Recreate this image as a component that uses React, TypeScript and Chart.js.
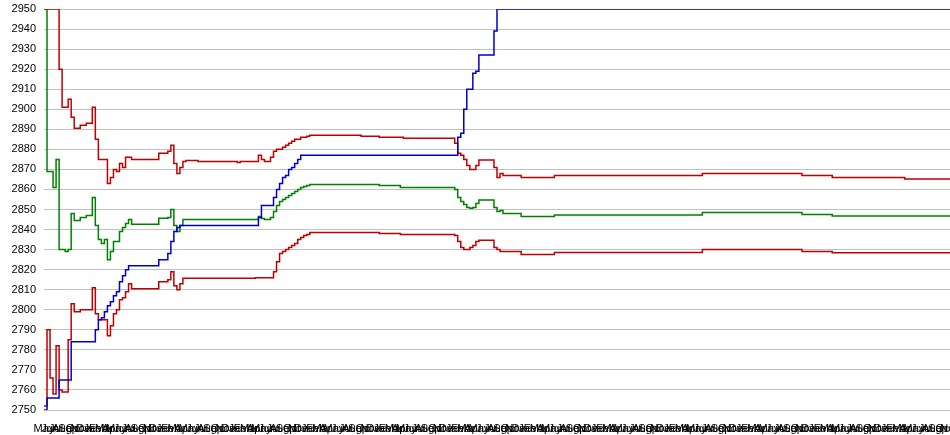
import React, { useEffect, useRef } from "react";
import { Chart, registerables } from "chart.js";

Chart.register(...registerables);

const MONTHS = ["May", "Jun", "Jul", "Aug", "Sep", "Oct", "Nov", "Dec", "Jan", "Feb", "Mar", "Apr"];

const Y_MIN = 2750;
const Y_MAX = 2950;
const Y_STEP = 10;

const blueLine = [
  2750, 2756, 2756, 2756, 2756, 2765, 2765, 2765, 2765, 2784,
  2784, 2784, 2784, 2784, 2784, 2784, 2784, 2790, 2795, 2796,
  2799, 2802, 2804, 2807, 2809, 2814, 2817, 2820, 2822, 2822,
  2822, 2822, 2822, 2822, 2822, 2822, 2822, 2822, 2825, 2825,
  2825, 2828, 2834, 2839, 2841, 2842, 2842, 2842, 2842, 2842,
  2842, 2842, 2842, 2842, 2842, 2842, 2842, 2842, 2842, 2842,
  2842, 2842, 2842, 2842, 2842, 2842, 2842, 2842, 2842, 2842,
  2842, 2846, 2852, 2852, 2852, 2852, 2856, 2860, 2863, 2866,
  2867, 2870, 2871, 2873, 2875, 2877, 2877, 2877, 2877, 2877,
  2877, 2877, 2877, 2877, 2877, 2877, 2877, 2877, 2877, 2877,
  2877, 2877, 2877, 2877, 2877, 2877, 2877, 2877, 2877, 2877,
  2877, 2877, 2877, 2877, 2877, 2877, 2877, 2877, 2877, 2877,
  2877, 2877, 2877, 2877, 2877, 2877, 2877, 2877, 2877, 2877,
  2877, 2877, 2877, 2877, 2877, 2877, 2877, 2886, 2888, 2900,
  2910, 2910, 2918, 2919, 2927, 2927, 2927, 2927, 2927, 2939,
  2950, 2950, 2950, 2950, 2950, 2950, 2950, 2950, 2950, 2950,
  2950, 2950, 2950, 2950, 2950, 2950, 2950, 2950, 2950, 2950,
  2950, 2950, 2950, 2950, 2950, 2950, 2950, 2950, 2950, 2950,
  2950, 2950, 2950, 2950, 2950, 2950, 2950, 2950, 2950, 2950,
  2950, 2950, 2950, 2950, 2950, 2950, 2950, 2950, 2950, 2950,
  2950, 2950, 2950, 2950, 2950, 2950, 2950, 2950, 2950, 2950,
  2950, 2950, 2950, 2950, 2950, 2950, 2950, 2950, 2950, 2950,
  2950, 2950, 2950, 2950, 2950, 2950, 2950, 2950, 2950, 2950,
  2950, 2950, 2950, 2950, 2950, 2950, 2950, 2950, 2950, 2950,
  2950, 2950, 2950, 2950, 2950, 2950, 2950, 2950, 2950, 2950,
  2950, 2950, 2950, 2950, 2950, 2950, 2950, 2950, 2950, 2950,
  2950, 2950, 2950, 2950, 2950, 2950, 2950, 2950, 2950, 2950,
  2950, 2950, 2950, 2950, 2950, 2950, 2950, 2950, 2950, 2950,
  2950, 2950, 2950, 2950, 2950, 2950, 2950, 2950, 2950, 2950,
  2950, 2950, 2950, 2950, 2950, 2950, 2950, 2950, 2950, 2950,
  2950,
];

const upperBand = [
  2950, 2950, 2950, 2950, 2950, 2920, 2901, 2901, 2905, 2896,
  2890.5, 2890.5, 2892, 2892, 2893, 2893, 2901, 2885, 2875, 2875,
  2875, 2863, 2866, 2870, 2869, 2873, 2871, 2876, 2876, 2875,
  2875, 2875, 2875, 2875, 2875, 2875, 2875, 2875, 2878, 2878,
  2878, 2879, 2882, 2873, 2868, 2871, 2874, 2874.5, 2874.5, 2874.5,
  2874.5, 2874, 2874, 2874, 2874, 2874, 2874, 2874, 2874, 2874,
  2874, 2874, 2874, 2874, 2873.5, 2874, 2874, 2874, 2874, 2874,
  2874, 2877, 2875, 2874, 2874, 2876, 2879, 2880, 2880, 2881,
  2882, 2883, 2884, 2885, 2885, 2886, 2886, 2886.5, 2887, 2887,
  2887, 2887, 2887, 2887, 2887, 2887, 2887, 2887, 2887, 2887,
  2887, 2887, 2887, 2887, 2887, 2886.5, 2886.5, 2886.5, 2886.5, 2886.5,
  2886.5, 2886, 2886, 2886, 2886, 2886, 2886, 2886, 2886, 2885.5,
  2885.5, 2885.5, 2885.5, 2885.5, 2885.5, 2885.5, 2885.5, 2885.5, 2885.5, 2885.5,
  2885.5, 2885.5, 2885.5, 2885.5, 2885.5, 2885.5, 2883, 2878, 2877, 2875,
  2872, 2870, 2870, 2872, 2874.7, 2874.7, 2874.7, 2874.7, 2874.7, 2871,
  2866, 2868, 2867, 2867, 2867, 2867, 2867, 2867, 2866, 2866,
  2866, 2866, 2866, 2866, 2866, 2866, 2866, 2866, 2866, 2867,
  2867, 2867, 2867, 2867, 2867, 2867, 2867, 2867, 2867, 2867,
  2867, 2867, 2867, 2867, 2867, 2867, 2867, 2867, 2867, 2867,
  2867, 2867, 2867, 2867, 2867, 2867, 2867, 2867, 2867, 2867,
  2867, 2867, 2867, 2867, 2867, 2867, 2867, 2867, 2867, 2867,
  2867, 2867, 2867, 2867, 2867, 2867, 2867, 2867, 2868, 2868,
  2868, 2868, 2868, 2868, 2868, 2868, 2868, 2868, 2868, 2868,
  2868, 2868, 2868, 2868, 2868, 2868, 2868, 2868, 2868, 2868,
  2868, 2868, 2868, 2868, 2868, 2868, 2868, 2868, 2868, 2868,
  2868, 2867, 2867, 2867, 2867, 2867, 2867, 2867, 2867, 2867,
  2867, 2866, 2866, 2866, 2866, 2866, 2866, 2866, 2866, 2866,
  2866, 2866, 2866, 2866, 2866, 2866, 2866, 2866, 2866, 2866,
  2866, 2866, 2866, 2866, 2866, 2865.2, 2865.2, 2865.2, 2865.2, 2865.2,
  2865.2, 2865.2, 2865.2, 2865.2, 2865.2, 2865.2, 2865.2, 2865.2, 2865.2, 2865.2,
  2865.2,
];

const middleBand = [
  2950, 2869, 2869, 2861, 2875, 2830, 2830, 2829, 2830, 2848,
  2844.5, 2844.5, 2846, 2846, 2847, 2847, 2856, 2842, 2835, 2833,
  2835, 2825, 2829, 2834, 2834, 2839, 2841, 2843, 2845, 2842.6,
  2842.6, 2842.6, 2842.6, 2842.6, 2842.6, 2842.6, 2842.6, 2842.6, 2845.6, 2845.6,
  2845.6, 2846, 2850, 2842, 2839, 2842, 2845, 2845, 2845, 2845,
  2845, 2845, 2845, 2845, 2845, 2845, 2845, 2845, 2845, 2845,
  2845, 2845, 2845, 2845, 2845, 2845, 2845, 2845, 2845, 2845,
  2845, 2846.5, 2845.5, 2845, 2845, 2846, 2849, 2852, 2854, 2855,
  2856, 2857, 2858, 2859, 2860, 2861, 2861.5, 2862, 2862.5, 2862.5,
  2862.5, 2862.5, 2862.5, 2862.5, 2862.5, 2862.5, 2862.5, 2862.5, 2862.5, 2862.5,
  2862.5, 2862.5, 2862.5, 2862.5, 2862.5, 2862.5, 2862.5, 2862.5, 2862.5, 2862.5,
  2862.5, 2862, 2862, 2862, 2862, 2862, 2862, 2862, 2861, 2861,
  2861, 2861, 2861, 2861, 2861, 2861, 2861, 2861, 2861, 2861,
  2861, 2861, 2861, 2861, 2861, 2861, 2860, 2856, 2854, 2852.5,
  2851, 2850.6, 2851, 2853, 2854.7, 2854.7, 2854.7, 2854.7, 2854.7, 2851,
  2849, 2849.5, 2848, 2848, 2848, 2848, 2848, 2848, 2846.5, 2846.5,
  2846.5, 2846.5, 2846.5, 2846.5, 2846.5, 2846.5, 2846.5, 2846.5, 2846.5, 2847.3,
  2847.3, 2847.3, 2847.3, 2847.3, 2847.3, 2847.3, 2847.3, 2847.3, 2847.3, 2847.3,
  2847.3, 2847.3, 2847.3, 2847.3, 2847.3, 2847.3, 2847.3, 2847.3, 2847.3, 2847.3,
  2847.3, 2847.3, 2847.3, 2847.3, 2847.3, 2847.3, 2847.3, 2847.3, 2847.3, 2847.3,
  2847.3, 2847.3, 2847.3, 2847.3, 2847.3, 2847.3, 2847.3, 2847.3, 2847.3, 2847.3,
  2847.3, 2847.3, 2847.3, 2847.3, 2847.3, 2847.3, 2847.3, 2847.3, 2848.5, 2848.5,
  2848.5, 2848.5, 2848.5, 2848.5, 2848.5, 2848.5, 2848.5, 2848.5, 2848.5, 2848.5,
  2848.5, 2848.5, 2848.5, 2848.5, 2848.5, 2848.5, 2848.5, 2848.5, 2848.5, 2848.5,
  2848.5, 2848.5, 2848.5, 2848.5, 2848.5, 2848.5, 2848.5, 2848.5, 2848.5, 2848.5,
  2848.5, 2847.5, 2847.5, 2847.5, 2847.5, 2847.5, 2847.5, 2847.5, 2847.5, 2847.5,
  2847.5, 2846.8, 2846.8, 2846.8, 2846.8, 2846.8, 2846.8, 2846.8, 2846.8, 2846.8,
  2846.8, 2846.8, 2846.8, 2846.8, 2846.8, 2846.8, 2846.8, 2846.8, 2846.8, 2846.8,
  2846.8, 2846.8, 2846.8, 2846.8, 2846.8, 2846.8, 2846.8, 2846.8, 2846.8, 2846.8,
  2846.8, 2846.8, 2846.8, 2846.8, 2846.8, 2846.8, 2846.8, 2846.8, 2846.8, 2846.8,
  2846.8,
];

const lowerBand = [
  2752, 2790, 2766, 2758, 2782, 2760, 2759, 2759, 2785, 2803,
  2799, 2799, 2800, 2800, 2800, 2800, 2811, 2798, 2795, 2795,
  2795, 2787, 2792, 2798, 2800, 2805, 2806, 2809, 2813, 2810.5,
  2810.5, 2810.5, 2810.5, 2810.5, 2810.5, 2810.5, 2810.5, 2810.5, 2814, 2814,
  2814, 2815, 2819, 2812, 2810, 2813, 2815.7, 2815.7, 2815.7, 2815.7,
  2815.7, 2815.7, 2815.7, 2815.7, 2815.7, 2815.7, 2815.7, 2815.7, 2815.7, 2815.7,
  2815.7, 2815.7, 2815.7, 2815.7, 2815.7, 2815.7, 2815.7, 2815.7, 2815.7, 2815.7,
  2816, 2816, 2816, 2816, 2816, 2816, 2819, 2824, 2828, 2829,
  2830, 2831, 2832, 2833, 2835, 2836, 2837, 2837.5, 2838.5, 2838.5,
  2838.5, 2838.5, 2838.5, 2838.5, 2838.5, 2838.5, 2838.5, 2838.5, 2838.5, 2838.5,
  2838.5, 2838.5, 2838.5, 2838.5, 2838.5, 2838.5, 2838.5, 2838.5, 2838.5, 2838.5,
  2838.5, 2838, 2838, 2838, 2838, 2838, 2838, 2838, 2837.5, 2837.5,
  2837.5, 2837.5, 2837.5, 2837.5, 2837.5, 2837.5, 2837.5, 2837.5, 2837.5, 2837.5,
  2837.5, 2837.5, 2837.5, 2837.5, 2837.5, 2837.5, 2837, 2834, 2831, 2830,
  2830, 2831, 2832, 2834, 2834.7, 2834.7, 2834.7, 2834.7, 2834.7, 2831,
  2830, 2829, 2829, 2829, 2829, 2829, 2829, 2829, 2827.5, 2827.5,
  2827.5, 2827.5, 2827.5, 2827.5, 2827.5, 2827.5, 2827.5, 2827.5, 2827.5, 2828.5,
  2828.5, 2828.5, 2828.5, 2828.5, 2828.5, 2828.5, 2828.5, 2828.5, 2828.5, 2828.5,
  2828.5, 2828.5, 2828.5, 2828.5, 2828.5, 2828.5, 2828.5, 2828.5, 2828.5, 2828.5,
  2828.5, 2828.5, 2828.5, 2828.5, 2828.5, 2828.5, 2828.5, 2828.5, 2828.5, 2828.5,
  2828.5, 2828.5, 2828.5, 2828.5, 2828.5, 2828.5, 2828.5, 2828.5, 2828.5, 2828.5,
  2828.5, 2828.5, 2828.5, 2828.5, 2828.5, 2828.5, 2828.5, 2828.5, 2830, 2830,
  2830, 2830, 2830, 2830, 2830, 2830, 2830, 2830, 2830, 2830,
  2830, 2830, 2830, 2830, 2830, 2830, 2830, 2830, 2830, 2830,
  2830, 2830, 2830, 2830, 2830, 2830, 2830, 2830, 2830, 2830,
  2830, 2829, 2829, 2829, 2829, 2829, 2829, 2829, 2829, 2829,
  2829, 2828.4, 2828.4, 2828.4, 2828.4, 2828.4, 2828.4, 2828.4, 2828.4, 2828.4,
  2828.4, 2828.4, 2828.4, 2828.4, 2828.4, 2828.4, 2828.4, 2828.4, 2828.4, 2828.4,
  2828.4, 2828.4, 2828.4, 2828.4, 2828.4, 2828.4, 2828.4, 2828.4, 2828.4, 2828.4,
  2828.4, 2828.4, 2828.4, 2828.4, 2828.4, 2828.4, 2828.4, 2828.4, 2828.4, 2828.4,
  2828.4,
];

const FONT = "'Liberation Sans', Arial, sans-serif";

export default function App() {
  const ref = useRef<HTMLCanvasElement>(null);

  useEffect(() => {
    document.body.style.margin = "0";
    const labels = upperBand.map((_, i) => MONTHS[Math.floor(i / 2) % 12]);
    const mk = (label: string, data: number[], color: string) => ({
      label,
      data,
      borderColor: color,
      backgroundColor: color,
      borderWidth: 1.5,
      pointRadius: 0,
      pointHoverRadius: 0,
      stepped: true as const,
      fill: false,
      tension: 0,
    });
    const chart = new Chart(ref.current as HTMLCanvasElement, {
      type: "line",
      data: {
        labels,
        datasets: [
          mk("Blue", blueLine, "#0000CC"),
          mk("Upper", upperBand, "#C00000"),
          mk("Lower", lowerBand, "#C00000"),
          mk("Middle", middleBand, "#008000"),
        ],
      },
      options: {
        responsive: false,
        animation: false,
        events: [],
        layout: { padding: { top: 9, right: 0, bottom: 0, left: 0 } },
        plugins: {
          legend: { display: false },
          tooltip: { enabled: false },
          title: { display: false },
        },
        scales: {
          x: {
            grid: { display: false, drawTicks: false },
            border: { display: false },
            ticks: {
              autoSkip: false,
              maxRotation: 0,
              minRotation: 0,
              padding: 12,
              color: "#000",
              font: { family: FONT, size: 11 },
              callback: (_v: any, i: number) => (i % 2 === 0 ? labels[i] : ""),
            },
            afterFit: (s: any) => {
              s.paddingLeft = 0;
              s.paddingRight = 0;
              s.height = 25;
            },
          },
          y: {
            min: Y_MIN,
            max: Y_MAX,
            grid: { color: "#C0C0C0", drawTicks: false, lineWidth: 1 },
            border: { display: false },
            ticks: {
              stepSize: Y_STEP,
              padding: 8,
              color: "#000",
              font: { family: FONT, size: 11 },
              callback: (v: any) => String(v),
            },
            afterFit: (s: any) => {
              s.width = 44;
              s.paddingTop = 0;
              s.paddingBottom = 0;
            },
          },
        },
      },
    });
    return () => chart.destroy();
  }, []);

  return <canvas ref={ref} width={950} height={435} style={{ display: "block" }} />;
}
